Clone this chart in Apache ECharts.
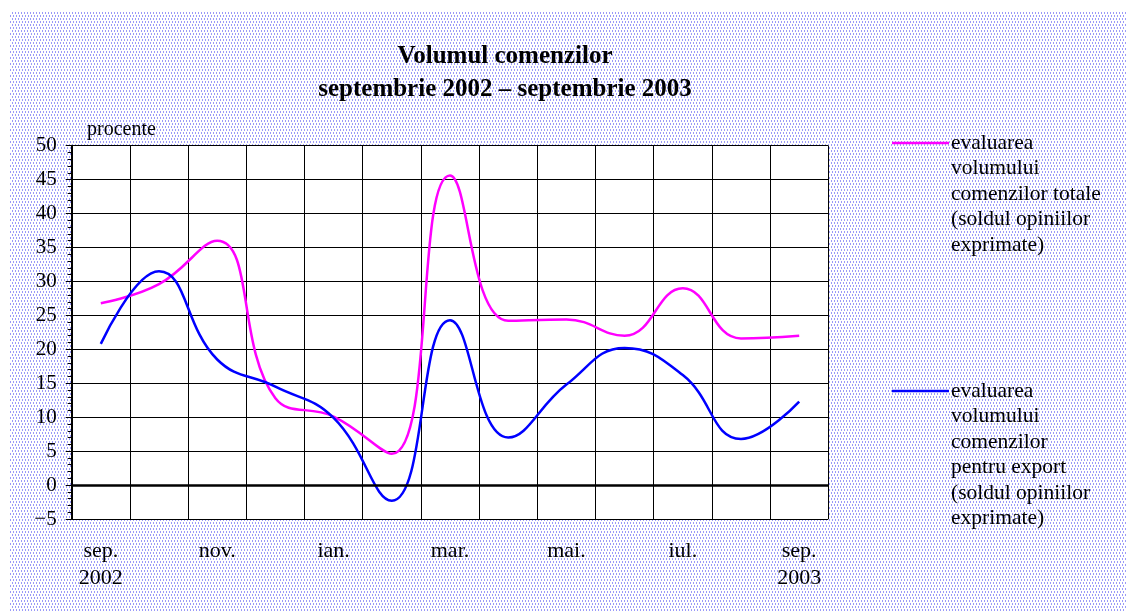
<!DOCTYPE html>
<html>
<head>
<meta charset="utf-8">
<script src="https://cdn.jsdelivr.net/npm/echarts@6/dist/echarts.min.js"></script>
<style>
  html, body { margin: 0; padding: 0; background: #fff; }
  #chart { width: 1126px; height: 612px; }
</style>
</head>
<body>
<div id="chart"></div>
<script>
var months = ['sep.', 'oct.', 'nov.', 'dec.', 'ian.', 'feb.', 'mar.', 'apr.', 'mai.', 'iun.', 'iul.', 'aug.', 'sep.'];
var monthLabels = ['sep.\n2002', '', 'nov.', '', 'ian.', '', 'mar.', '', 'mai.', '', 'iul.', '', 'sep.\n2003'];
var comenziTotale = [26.8, 29.6, 36.0, 12.8, 10.1, 4.6, 45.6, 24.2, 24.4, 22.0, 29.0, 21.6, 22.0];
var comenziExport = [20.8, 31.5, 18.5, 14.5, 9.9, -2.3, 24.3, 7.0, 14.8, 20.2, 16.2, 6.8, 12.3];
var yTicks = [-5, 0, 5, 10, 15, 20, 25, 30, 35, 40, 45, 50];

var legendTotale = ['evaluarea', 'volumului', 'comenzilor totale', '(soldul opiniilor', 'exprimate)'];
var legendExport = ['evaluarea', 'volumului', 'comenzilor', 'pentru export', '(soldul opiniilor', 'exprimate)'];

var serif = '"Liberation Serif", "Times New Roman", serif';

// dotted background tile
var tile = document.createElement('canvas');
tile.width = 6; tile.height = 6;
var tctx = tile.getContext('2d');
tctx.fillStyle = '#ffffff';
tctx.fillRect(0, 0, 6, 6);
tctx.fillStyle = '#9a9af8';
tctx.fillRect(0, 0, 1, 2);
tctx.fillRect(3, 0, 1, 2);
tctx.fillRect(1, 3, 1, 2);
tctx.fillRect(4, 3, 1, 2);

var myChart = echarts.init(document.getElementById('chart'), null, {renderer: 'canvas'});

var graphics = [
    {
        type: 'rect', z: -10, silent: true,
        shape: {x: 10, y: 12, width: 1116, height: 600},
        style: {fill: {image: tile, repeat: 'repeat'}}
    },
    {
        type: 'rect', z: -5, silent: true,
        shape: {x: 71.7, y: 145.7, width: 756.6, height: 373.3},
        style: {fill: '#ffffff'}
    },
    {
        type: 'text', left: 87, top: 120,
        style: {text: 'procente', font: '20px ' + serif, fill: '#000'}
    }
];

function addLegend(y, color, lines) {
    graphics.push({
        type: 'line', silent: true,
        shape: {x1: 892, y1: y, x2: 949, y2: y},
        style: {stroke: color, lineWidth: 2.5}
    });
    graphics.push({
        type: 'text', left: 951, top: y - 12.5,
        style: {text: lines.join('\n'), font: '21.5px ' + serif, lineHeight: 25.5, fill: '#000'}
    });
}
addLegend(143, '#ff00ff', legendTotale);
addLegend(391, '#0000ff', legendExport);

var option = {
    backgroundColor: '#ffffff',
    animation: false,
    title: {
        text: 'Volumul comenzilor\nseptembrie 2002 \u2013 septembrie 2003',
        left: 500, top: 35, textAlign: 'center',
        textStyle: {fontFamily: serif, fontSize: 25, fontWeight: 'bold', lineHeight: 33, color: '#000'}
    },
    graphic: graphics,
    grid: {left: 71.7, right: 297.7, top: 145.7, bottom: 93, containLabel: false},
    xAxis: {
        type: 'category',
        data: months,
        boundaryGap: true,
        axisLine: {show: true, lineStyle: {color: '#000', width: 1}},
        axisTick: {show: false},
        splitLine: {show: true, interval: 0, lineStyle: {color: '#000', width: 1}},
        axisLabel: {
            interval: 0, margin: 19,
            formatter: function (v, i) { return monthLabels[i]; },
            fontFamily: serif, fontSize: 22, lineHeight: 27, color: '#000'
        }
    },
    yAxis: {
        type: 'value',
        min: yTicks[0], max: yTicks[yTicks.length - 1], interval: 5,
        axisLine: {show: true, lineStyle: {color: '#000', width: 2}},
        axisTick: {show: true, inside: false, length: 6, lineStyle: {color: '#000'}},
        minorTick: {show: true, splitNumber: 5, length: 4, lineStyle: {color: '#000'}},
        splitLine: {show: true, lineStyle: {color: '#000', width: 1}},
        axisLabel: {
            margin: 15, fontFamily: serif, fontSize: 21, color: '#000',
            formatter: function (v) { return v < 0 ? '\u2212' + Math.abs(v) : String(v); }
        }
    },
    series: [
        {
            name: 'comenzi totale',
            type: 'line',
            data: comenziTotale,
            smooth: 0.45,
            symbol: 'none',
            lineStyle: {color: '#ff00ff', width: 2.5},
            z: 3,
            markLine: {
                silent: true, symbol: 'none', label: {show: false},
                lineStyle: {color: '#000', width: 2.5, type: 'solid'},
                data: [{yAxis: 0}]
            }
        },
        {
            name: 'comenzi export',
            type: 'line',
            data: comenziExport,
            smooth: 0.45,
            symbol: 'none',
            lineStyle: {color: '#0000ff', width: 2.5},
            z: 4
        }
    ]
};

myChart.setOption(option);
</script>
</body>
</html>
